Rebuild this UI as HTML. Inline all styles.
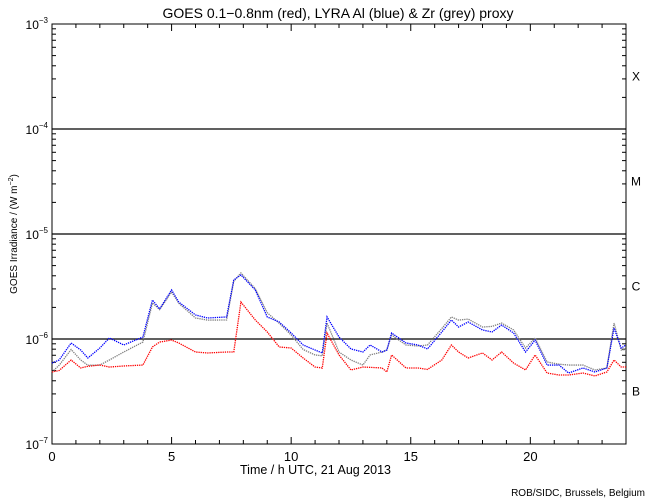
<!DOCTYPE html>
<html><head><meta charset="utf-8"><style>
body{margin:0;background:#fff}
svg{display:block;font-family:"Liberation Sans",sans-serif}
</style></head><body>
<svg id="c" width="650" height="500" viewBox="0 0 650 500">
<text x="338" y="18" text-anchor="middle" font-size="14">GOES 0.1−0.8nm (red), LYRA Al (blue) &amp; Zr (grey) proxy</text>
<text x="240" y="474" font-size="12.5">Time / h UTC, 21 Aug 2013</text>
<text transform="translate(17,234) rotate(-90)" text-anchor="middle" font-size="10">GOES Irradiance / (W m<tspan dy="-4" font-size="7">−2</tspan><tspan dy="4">)</tspan></text>
<text x="645" y="496" text-anchor="end" font-size="10">ROB/SIDC, Brussels, Belgium</text>
<g id="axes"></g>
<g id="series"></g>
</svg>
<script>
const hours=[0,0.3,0.8,1.2,1.5,2,2.4,3,3.8,4.2,4.5,5,5.3,6,6.5,7.3,7.6,7.9,8.5,9,9.5,10,10.5,11,11.3,11.5,12,12.5,13,13.3,13.8,14,14.2,14.8,15.3,15.7,16.3,16.7,17,17.4,18,18.4,18.8,19.3,19.8,20.2,20.7,21.2,21.6,22.2,22.7,23.2,23.5,23.8,24];
const blueLog=[-6.229,-6.2,-6.038,-6.105,-6.181,-6.086,-5.99,-6.057,-5.981,-5.629,-5.714,-5.533,-5.648,-5.771,-5.8,-5.79,-5.438,-5.39,-5.533,-5.79,-5.838,-5.943,-6.057,-6.105,-6.133,-5.79,-5.981,-6.095,-6.124,-6.057,-6.124,-6.105,-5.943,-6.038,-6.057,-6.095,-5.933,-5.819,-5.886,-5.838,-5.914,-5.933,-5.867,-5.943,-6.124,-6.01,-6.248,-6.248,-6.324,-6.276,-6.314,-6.276,-5.895,-6.086,-6.057];
const greyLog=[-6.314,-6.25,-6.1,-6.2,-6.25,-6.248,-6.2,-6.124,-6.029,-5.657,-5.72,-5.552,-5.66,-5.8,-5.82,-5.819,-5.45,-5.371,-5.52,-5.75,-5.85,-5.962,-6.1,-6.152,-6.16,-5.848,-6.124,-6.2,-6.248,-6.152,-6.124,-6.105,-5.962,-6.057,-6.067,-6.057,-5.9,-5.79,-5.82,-5.81,-5.886,-5.88,-5.848,-5.914,-6.086,-5.99,-6.219,-6.24,-6.248,-6.248,-6.295,-6.276,-5.848,-6.105,-6.1];
const redLog=[-6.314,-6.3,-6.2,-6.276,-6.26,-6.248,-6.267,-6.257,-6.248,-6.076,-6.029,-6.01,-6.038,-6.124,-6.133,-6.124,-6.124,-5.648,-5.819,-5.933,-6.076,-6.086,-6.181,-6.267,-6.276,-5.943,-6.152,-6.295,-6.267,-6.27,-6.276,-6.314,-6.152,-6.276,-6.276,-6.29,-6.2,-6.057,-6.124,-6.181,-6.133,-6.2,-6.124,-6.229,-6.295,-6.152,-6.324,-6.343,-6.343,-6.324,-6.352,-6.314,-6.2,-6.267,-6.267];
const xTicks=[0,5,10,15,20];
const yDecades=[-3,-4,-5,-6,-7];
const classes=["X","M","C","B"];
const X0=52,X1=626,Y0=24,Y1=444;
const xs=h=>X0+(X1-X0)*h/24;
const ys=l=>Y0+(Y1-Y0)*(-3-l)/4;
const NS="http://www.w3.org/2000/svg";
const ax=document.getElementById('axes'),sr=document.getElementById('series');
function mk(tag,at,parent){const e=document.createElementNS(NS,tag);for(const k in at)e.setAttribute(k,at[k]);parent.appendChild(e);return e;}
const frame=mk('rect',{x:X0,y:Y0,width:X1-X0,height:Y1-Y0,fill:'none',stroke:'#000','stroke-width':1},ax);


yDecades.forEach(d=>{
  const y=ys(d);
  if(d<-3&&d>-7){const g=mk('line',{x1:X0,x2:X1,y1:y,y2:y,stroke:'#000','stroke-width':1.2},ax);
  
  }
  const t=mk('text',{x:X0-4,y:y+5,'text-anchor':'end','font-size':12},ax);
  
  
  t.textContent='10';
  const s=mk('tspan',{dy:-6,'font-size':8},t);s.textContent=String(d).replace('-','−');
  mk('line',{x1:X0,x2:X0+7,y1:y,y2:y,stroke:'#000'},ax);
  mk('line',{x1:X1,x2:X1-7,y1:y,y2:y,stroke:'#000'},ax);
  if(d>-7)for(let m=2;m<=9;m++){const yy=ys(d-1+Math.log10(m));
    mk('line',{x1:X0,x2:X0+4,y1:yy,y2:yy,stroke:'#000'},ax);
    mk('line',{x1:X1,x2:X1-4,y1:yy,y2:yy,stroke:'#000'},ax);}
});
classes.forEach((c,i)=>{const t=mk('text',{x:636,y:ys(-3.5-i)+4,'text-anchor':'middle','font-size':12},ax);
  
  
  t.textContent=c;});
for(let h=0;h<=24;h++){const x=xs(h),maj=h%5==0,L=maj?7:4;
  mk('line',{x1:x,x2:x,y1:Y1,y2:Y1-L,stroke:'#000'},ax);
  mk('line',{x1:x,x2:x,y1:Y0,y2:Y0+L,stroke:'#000'},ax);}
xTicks.forEach(h=>{const t=mk('text',{x:xs(h),y:Y1+17,'text-anchor':'middle','font-size':13},ax);
  
  
  t.textContent=h;});
function line(vals,col,name){
  const p=mk('polyline',{points:hours.map((h,i)=>xs(h)+','+ys(vals[i])).join(' '),fill:'none',stroke:col,'stroke-width':1.3,'stroke-dasharray':'1.3 0.9'},sr);
  
  
}
line(greyLog,'#808080','zr-proxy-series');
line(blueLog,'#0000ff','al-proxy-series');
line(redLog,'#ff0000','goes-series');
</script>
</body></html>
